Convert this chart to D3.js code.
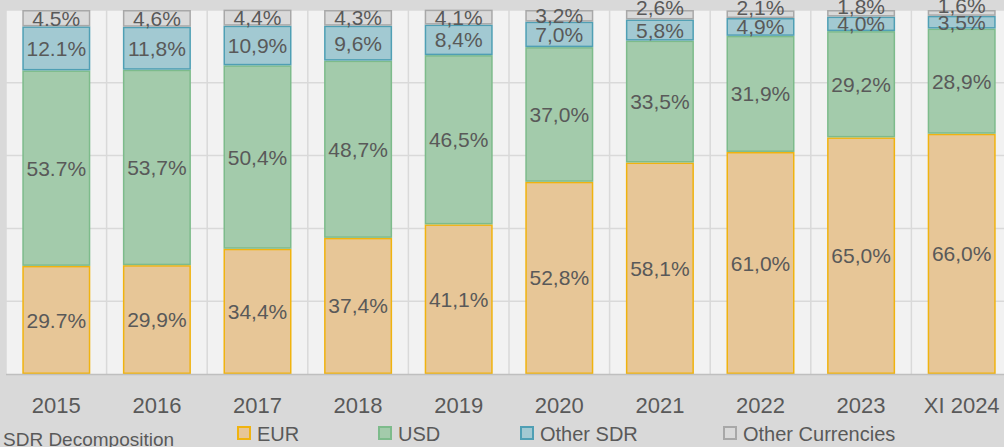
<!DOCTYPE html>
<html>
<head>
<meta charset="utf-8">
<script src="https://cdn.jsdelivr.net/npm/d3@7"></script>
<style>
  body { margin: 0; background: #d9d9d9; }
  svg { display: block; font-family: "Liberation Sans", Arial, sans-serif; }
</style>
</head>
<body>
<svg width="1004" height="447"></svg>
<script>
// chart data
const categories = ["2015", "2016", "2017", "2018", "2019", "2020", "2021", "2022", "2023", "XI 2024"];
const eur = [29.7, 29.9, 34.4, 37.4, 41.1, 52.8, 58.1, 61.0, 65.0, 66.0];
const usd = [53.7, 53.7, 50.4, 48.7, 46.5, 37.0, 33.5, 31.9, 29.2, 28.9];
const otherSdr = [12.1, 11.8, 10.9, 9.6, 8.4, 7.0, 5.8, 4.9, 4.0, 3.5];
const otherCurrencies = [4.5, 4.6, 4.4, 4.3, 4.1, 3.2, 2.6, 2.1, 1.8, 1.6];
// 2015 labels were typed with a point, the rest with a comma
const decimalMarks = [".", ",", ",", ",", ",", ",", ",", ",", ",", ","];
const seriesNames = ["EUR", "USD", "Other SDR", "Other Currencies"];
const yTicks = [0, 20, 40, 60, 80, 100];
const chartTitle = "SDR Decomposition";

const fills = ["#e7c697", "#a3cbab", "#a2c9d2", "#d9d9d9"];
const strokes = ["#f0b30f", "#7dbb8b", "#4f9fb4", "#a8a8a8"];
const textColor = "#595959";

var svg = d3.select("svg"),
  plotLeft = 6,
  plotRight = 1012,
  plotTop = 10,
  plotBottom = 374;

var table = categories.map((c, i) => ({
  cat: c,
  "EUR": eur[i],
  "USD": usd[i],
  "Other SDR": otherSdr[i],
  "Other Currencies": otherCurrencies[i],
  mark: decimalMarks[i]
}));

var stacked = d3.stack().keys(seriesNames)(table);

var xScale = d3.scaleBand()
  .domain(categories)
  .range([plotLeft, plotRight])
  .paddingInner(0.324)
  .paddingOuter(0.162);

var yScale = d3.scaleLinear().domain([0, 100]).range([plotBottom, plotTop]);

// =========================================================================
// PLOT AREA + GRID
// =========================================================================
svg.append("rect")
  .attr("x", plotLeft)
  .attr("y", plotTop)
  .attr("width", plotRight - plotLeft)
  .attr("height", plotBottom - plotTop)
  .attr("fill", "#f2f2f2");

svg.append("g")
  .selectAll("line")
  .data(yTicks.slice(1))
  .enter()
  .append("line")
  .attr("x1", plotLeft)
  .attr("x2", plotRight)
  .attr("y1", (d) => yScale(d))
  .attr("y2", (d) => yScale(d))
  .attr("stroke", "#d9d9d9")
  .attr("stroke-width", 1.5);

var step = xScale.step();
svg.append("g")
  .selectAll("line")
  .data(categories)
  .enter()
  .append("line")
  .attr("x1", (d) => xScale(d) - xScale.paddingOuter() * step)
  .attr("x2", (d) => xScale(d) - xScale.paddingOuter() * step)
  .attr("y1", plotTop)
  .attr("y2", plotBottom)
  .attr("stroke", "#d9d9d9")
  .attr("stroke-width", 1.5);

// =========================================================================
// BARS
// =========================================================================
var layers = svg.append("g")
  .selectAll("g")
  .data(stacked)
  .enter()
  .append("g")
  .attr("fill", (d, i) => fills[i])
  .attr("stroke", (d, i) => strokes[i])
  .attr("stroke-width", 1.5);

layers.selectAll("rect")
  .data((d) => d)
  .enter()
  .append("rect")
  .attr("x", (d) => xScale(d.data.cat) + 0.75)
  .attr("y", (d) => yScale(d[1]) + 0.75)
  .attr("width", xScale.bandwidth() - 1.5)
  .attr("height", (d) => Math.max(0, yScale(d[0]) - yScale(d[1]) - 1.5));

// x axis line
svg.append("line")
  .attr("x1", plotLeft)
  .attr("x2", plotRight)
  .attr("y1", plotBottom + 0.5)
  .attr("y2", plotBottom + 0.5)
  .attr("stroke", "#bfbfbf")
  .attr("stroke-width", 1.5);

// =========================================================================
// DATA LABELS
// =========================================================================
stacked.forEach((layer) => {
  svg.append("g")
    .selectAll("text")
    .data(layer)
    .enter()
    .append("text")
    .attr("x", (d) => xScale(d.data.cat) + xScale.bandwidth() / 2)
    .attr("y", (d) => {
      var h = yScale(d[0]) - yScale(d[1]);
      var mid = (yScale(d[0]) + yScale(d[1])) / 2;
      // thin top segments had their label moved up a bit
      return h < 10 ? mid - 7 : mid;
    })
    .attr("dy", "0.36em")
    .attr("text-anchor", "middle")
    .attr("font-size", 21)
    .attr("fill", textColor)
    .text((d) => d.data[layer.key].toFixed(1).replace(".", d.data.mark) + "%");
});

// =========================================================================
// X LABELS
// =========================================================================
svg.append("g")
  .selectAll("text")
  .data(categories)
  .enter()
  .append("text")
  .attr("x", (d) => xScale(d) + xScale.bandwidth() / 2)
  .attr("y", 413)
  .attr("text-anchor", "middle")
  .attr("font-size", 22)
  .attr("fill", textColor)
  .text((d) => d);

// =========================================================================
// TITLE + LEGEND
// =========================================================================
svg.append("text")
  .attr("x", 3)
  .attr("y", 446)
  .attr("font-size", 19)
  .attr("fill", textColor)
  .text(chartTitle);

var legendX = [237, 378, 520, 723];
var legend = svg.append("g")
  .selectAll("g")
  .data(seriesNames)
  .enter()
  .append("g")
  .attr("transform", (d, i) => "translate(" + legendX[i] + ",426)");

legend.append("rect")
  .attr("x", 1)
  .attr("y", 1)
  .attr("width", 12)
  .attr("height", 12)
  .attr("fill", (d, i) => fills[i])
  .attr("stroke", (d, i) => strokes[i])
  .attr("stroke-width", 2);

legend.append("text")
  .attr("x", 20)
  .attr("y", 14.5)
  .attr("font-size", 20)
  .attr("fill", textColor)
  .text((d) => d);
</script>
</body>
</html>
